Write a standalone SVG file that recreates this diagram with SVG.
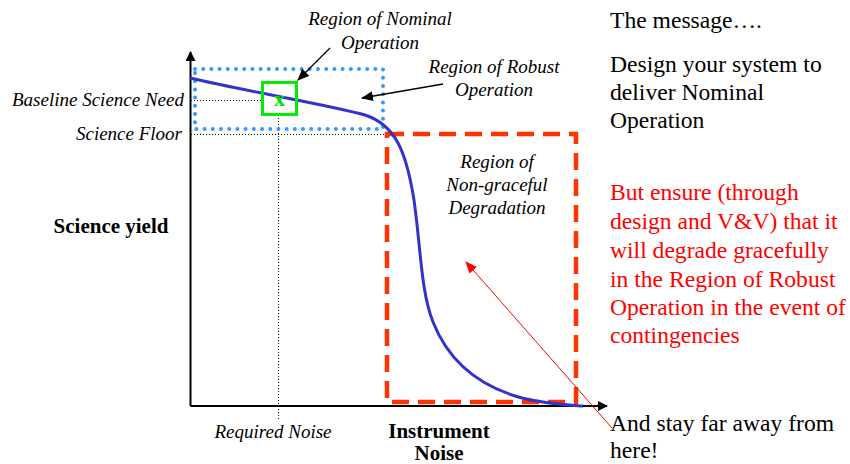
<svg xmlns="http://www.w3.org/2000/svg" width="850" height="464" viewBox="0 0 850 464">
  <style>
    .ital { font-family: "Liberation Serif", "Times New Roman", serif; font-style: italic; font-size: 19px; fill: #000; }
    .bold { font-family: "Liberation Serif", "Times New Roman", serif; font-weight: bold; font-size: 21px; fill: #000; }
    .msg { font-family: "Liberation Serif", "Times New Roman", serif; font-size: 23.6px; fill: #000; }
    .msg-red { fill: #ff0000; }
    .guide { stroke: #000; stroke-width: 1; stroke-dasharray: 1 2; fill: none; }
    .axis { stroke: #000; stroke-width: 2; fill: none; }
    .pointer { stroke: #000; stroke-width: 1.3; fill: none; }
  </style>
  <defs>
    <marker id="axisHead" markerWidth="10" markerHeight="10" refX="9" refY="5" orient="auto" markerUnits="userSpaceOnUse">
      <path d="M0,0 L10,5 L0,10 Z" fill="#000"/>
    </marker>
    <marker id="blackHead" markerWidth="12" markerHeight="10" refX="11" refY="5" orient="auto" markerUnits="userSpaceOnUse">
      <path d="M0,0 L12,5 L0,10 Z" fill="#000"/>
    </marker>
    <marker id="redHead" markerWidth="12" markerHeight="10" refX="11" refY="5" orient="auto" markerUnits="userSpaceOnUse">
      <path d="M0,0 L12,5 L0,10 Z" fill="#ff0000"/>
    </marker>
  </defs>

  <!-- axes -->
  <g id="axes">
    <line class="axis" x1="190.5" y1="406" x2="190.5" y2="52" marker-end="url(#axisHead)"/>
    <line class="axis" x1="190.5" y1="406" x2="607" y2="406" marker-end="url(#axisHead)"/>
  </g>

  <!-- reference guide lines -->
  <g id="guides">
    <line class="guide" x1="191" y1="100.5" x2="262" y2="100.5"/>
    <line class="guide" x1="191" y1="134.5" x2="388" y2="134.5"/>
    <line class="guide" x1="278.5" y1="115" x2="278.5" y2="419"/>
  </g>

  <!-- region boxes -->
  <g id="robust-region">
    <rect x="195" y="69" width="188" height="60" fill="none" stroke="#3399ff" stroke-width="4" stroke-linecap="round" stroke-dasharray="0 8.2"/>
  </g>
  <g id="nongraceful-region">
    <rect x="387" y="134" width="189" height="268" fill="none" stroke="#ff3300" stroke-width="4.5" stroke-dasharray="17 9"/>
  </g>

  <!-- science yield curve -->
  <g id="yield-curve">
    <path d="M190,78 C250,92 330,105 365,115 C395,125 406,150 414,200 C421,250 421,292 433,322 C448,360 478,386 522,398 C546,404 566,405 583,406" fill="none" stroke="#3333cc" stroke-width="3"/>
  </g>

  <!-- nominal operating point -->
  <g id="nominal-point">
    <rect x="262.5" y="82.5" width="34" height="32" fill="none" stroke="#00ee00" stroke-width="3"/>
    <text x="279.5" y="106" text-anchor="middle" font-family="Liberation Serif, serif" font-weight="bold" font-size="22" fill="#00dd00">x</text>
  </g>

  <!-- connectors -->
  <g id="connectors">
    <line class="pointer" x1="330" y1="48" x2="298" y2="80" marker-end="url(#blackHead)"/>
    <line class="pointer" x1="443" y1="84" x2="362" y2="98" marker-end="url(#blackHead)"/>
    <line x1="612" y1="428" x2="466" y2="262" stroke="#ff0000" stroke-width="1" marker-end="url(#redHead)"/>
  </g>

  <!-- axis and level labels -->
  <g id="labels">
    <text class="ital" x="184" y="106" text-anchor="end">Baseline Science Need</text>
    <text class="ital" x="182" y="140" text-anchor="end">Science Floor</text>
    <text class="bold" x="111" y="233" text-anchor="middle">Science yield</text>
    <text class="ital" x="273" y="438" text-anchor="middle">Required Noise</text>
    <text class="bold" x="439" y="438" text-anchor="middle">Instrument</text>
    <text class="bold" x="439" y="460" text-anchor="middle">Noise</text>
  </g>

  <g id="label-nominal">
    <text class="ital" x="380" y="25" text-anchor="middle">Region of Nominal</text>
    <text class="ital" x="380" y="49" text-anchor="middle">Operation</text>
  </g>
  <g id="label-robust">
    <text class="ital" x="494" y="73" text-anchor="middle">Region of Robust</text>
    <text class="ital" x="494" y="96" text-anchor="middle">Operation</text>
  </g>
  <g id="label-nongraceful">
    <text class="ital" x="497" y="168" text-anchor="middle">Region of</text>
    <text class="ital" x="497" y="191" text-anchor="middle">Non-graceful</text>
    <text class="ital" x="497" y="214" text-anchor="middle">Degradation</text>
  </g>

  <!-- message panel -->
  <g id="message">
    <text class="msg" x="610" y="28">The message….</text>
    <text class="msg" x="610" y="72">Design your system to</text>
    <text class="msg" x="610" y="100">deliver Nominal</text>
    <text class="msg" x="610" y="128">Operation</text>
    <text class="msg msg-red" x="610" y="200">But ensure (through</text>
    <text class="msg msg-red" x="610" y="229">design and V&amp;V) that it</text>
    <text class="msg msg-red" x="610" y="258">will degrade gracefully</text>
    <text class="msg msg-red" x="610" y="287">in the Region of Robust</text>
    <text class="msg msg-red" x="610" y="315">Operation in the event of</text>
    <text class="msg msg-red" x="610" y="343">contingencies</text>
    <text class="msg" x="610" y="431">And stay far away from</text>
    <text class="msg" x="610" y="458">here!</text>
  </g>
</svg>
